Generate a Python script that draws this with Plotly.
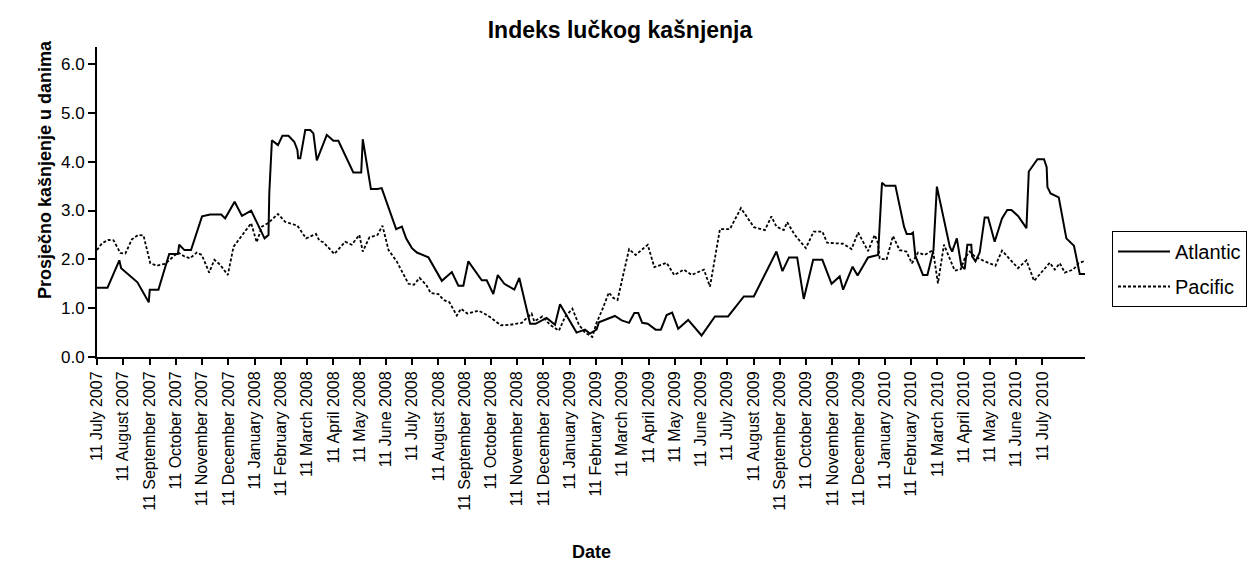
import plotly.graph_objects as go

# x positions: months elapsed since 11 July 2007
atlantic_month = [0.00, 0.40, 0.85, 0.92, 1.54, 1.97, 2.01, 2.34, 2.53, 2.75, 3.08, 3.13, 3.33, 3.58,
                  4.00, 4.31, 4.73, 4.88, 5.24, 5.52, 5.87, 6.18, 6.38, 6.53, 6.56, 6.66, 6.89, 7.06,
                  7.29, 7.51, 7.63, 7.66, 7.74, 7.93, 8.12, 8.24, 8.37, 8.75, 9.00, 9.19, 9.76, 10.06,
                  10.12, 10.43, 10.68, 10.84, 11.39, 11.61, 11.77, 11.99, 12.18, 12.62, 13.13, 13.51,
                  13.76, 13.95, 14.14, 14.65, 14.84, 15.09, 15.26, 15.51, 15.89, 16.08, 16.49, 16.70,
                  17.12, 17.44, 17.63, 18.26, 18.58, 18.77, 19.02, 19.11, 19.72, 19.98, 20.26, 20.46,
                  20.61, 20.76, 20.97, 21.27, 21.47, 21.69, 21.90, 22.13, 22.51, 23.02, 23.53, 24.03,
                  24.63, 25.01, 25.87, 26.10, 26.35, 26.66, 26.91, 27.27, 27.62, 27.97, 28.28, 28.41,
                  28.77, 28.96, 29.36, 29.74, 29.89, 30.02, 30.40, 30.73, 30.83, 30.99, 31.07, 31.16,
                  31.45, 31.62, 31.85, 31.98, 32.47, 32.56, 32.74, 32.91, 33.04, 33.14, 33.29, 33.32,
                  33.45, 33.61, 33.80, 33.93, 34.18, 34.46, 34.66, 34.82, 35.07, 35.39, 35.48, 35.81,
                  36.06, 36.16, 36.19, 36.31, 36.62, 36.91, 37.20, 37.42, 37.67]
atlantic_value = [1.42, 1.42, 1.98, 1.82, 1.53, 1.12, 1.38, 1.38, 1.72, 2.11, 2.11, 2.30, 2.19, 2.19,
                  2.88, 2.92, 2.92, 2.84, 3.18, 2.89, 3.00, 2.64, 2.43, 2.50, 3.35, 4.44, 4.34, 4.53,
                  4.53, 4.41, 4.24, 4.07, 4.07, 4.65, 4.65, 4.58, 4.03, 4.55, 4.43, 4.43, 3.78, 3.78,
                  4.46, 3.44, 3.44, 3.46, 2.62, 2.67, 2.43, 2.23, 2.14, 2.04, 1.56, 1.74,
                  1.46, 1.46, 1.96, 1.57, 1.57, 1.29, 1.68, 1.50, 1.38, 1.62, 0.68, 0.68,
                  0.80, 0.66, 1.08, 0.50, 0.56, 0.48, 0.56, 0.71, 0.84, 0.75, 0.70, 0.90,
                  0.90, 0.70, 0.68, 0.56, 0.56, 0.86, 0.91, 0.58, 0.76, 0.44, 0.83, 0.83,
                  1.24, 1.24, 2.16, 1.76, 2.04, 2.04, 1.19, 1.99, 1.99, 1.50, 1.65, 1.38,
                  1.85, 1.67, 2.04, 2.09, 3.57, 3.51, 3.51, 2.67, 2.52, 2.52, 2.55, 2.07,
                  1.68, 1.68, 2.19, 3.49, 2.26, 2.16, 2.43, 1.87, 1.80, 2.30, 2.30, 2.06,
                  1.96, 2.14, 2.86, 2.86, 2.36, 2.84, 3.01, 3.01, 2.89, 2.64, 3.80, 4.05,
                  4.05, 3.89, 3.48, 3.35, 3.27, 2.43, 2.28, 1.70, 1.70]

pacific_month = [0.00, 0.19, 0.44, 0.63, 0.89, 1.08, 1.33, 1.56, 1.77, 2.03, 2.28, 2.60, 2.91, 3.10,
                 3.33, 3.54, 3.80, 3.99, 4.27, 4.47, 4.69, 4.98, 5.20, 5.49, 5.87, 6.08, 6.28, 6.53,
                 6.89, 7.16, 7.36, 7.63, 7.96, 8.34, 8.47, 8.62, 9.04, 9.45, 9.70, 9.99, 10.12, 10.37,
                 10.68, 10.87, 11.10, 11.41, 11.86, 12.07, 12.28, 12.53, 12.71, 13.00, 13.19, 13.42,
                 13.70, 13.86, 14.10, 14.52, 14.71, 14.96, 15.38, 15.73, 16.17, 16.55, 16.65, 16.96,
                 17.25, 17.59, 17.82, 18.10, 18.35, 18.58, 18.86, 19.02, 19.24, 19.49, 19.66, 19.82,
                 20.26, 20.51, 20.97, 21.22, 21.69, 21.98, 22.35, 22.64, 23.11, 23.34, 23.72, 24.10,
                 24.52, 25.01, 25.43, 25.68, 25.87, 26.15, 26.28, 26.57, 26.99, 27.29, 27.62, 27.80,
                 28.41, 28.73, 28.98, 29.36, 29.61, 29.74, 29.80, 30.06, 30.31, 30.56, 30.82, 31.03,
                 31.26, 31.51, 31.83, 32.02, 32.25, 32.66, 32.89, 33.04, 33.23, 33.42, 33.80, 34.21,
                 34.46, 35.07, 35.39, 35.68, 36.28, 36.47, 36.66, 36.85, 37.17, 37.38, 37.74]
pacific_value = [2.19, 2.33, 2.40, 2.39, 2.13, 2.12, 2.41, 2.50, 2.49, 1.92, 1.87, 1.91, 2.06, 2.14,
                 2.06, 2.02, 2.14, 2.09, 1.73, 1.99, 1.89, 1.68, 2.26, 2.47, 2.74, 2.35, 2.67, 2.75,
                 2.93, 2.77, 2.74, 2.69, 2.43, 2.52, 2.38, 2.35, 2.11, 2.36, 2.30, 2.50, 2.16, 2.45,
                 2.50, 2.69, 2.19, 1.96, 1.50, 1.48, 1.62, 1.48, 1.31, 1.29, 1.17, 1.12,
                 0.85, 0.99, 0.89, 0.95, 0.90, 0.82, 0.65, 0.66, 0.70, 0.89, 0.73, 0.83,
                 0.66, 0.54, 0.82, 0.99, 0.66, 0.50, 0.41, 0.70, 0.97, 1.32, 1.21, 1.17,
                 2.21, 2.09, 2.30, 1.84, 1.93, 1.68, 1.79, 1.68, 1.79, 1.44, 2.62, 2.62,
                 3.05, 2.66, 2.60, 2.88, 2.67, 2.60, 2.76, 2.50, 2.23, 2.57, 2.57, 2.34,
                 2.32, 2.21, 2.55, 2.17, 2.50, 2.33, 2.02, 1.99, 2.48, 2.19, 2.16, 1.92,
                 2.14, 2.09, 2.19, 1.51, 2.30, 1.77, 1.80, 2.02, 2.16, 2.06, 1.96, 1.87,
                 2.18, 1.82, 1.98, 1.56, 1.93, 1.79, 1.92, 1.73, 1.79, 1.92, 2.00]

month_labels = ["11 July 2007", "11 August 2007", "11 September 2007", "11 October 2007",
                "11 November 2007", "11 December 2007", "11 January 2008", "11 February 2008",
                "11 March 2008", "11 April 2008", "11 May 2008", "11 June 2008", "11 July 2008",
                "11 August 2008", "11 September 2008", "11 October 2008", "11 November 2008",
                "11 December 2008", "11 January 2009", "11 February 2009", "11 March 2009",
                "11 April 2009", "11 May 2009", "11 June 2009", "11 July 2009", "11 August 2009",
                "11 September 2009", "11 October 2009", "11 November 2009", "11 December 2009",
                "11 January 2010", "11 February 2010", "11 March 2010", "11 April 2010",
                "11 May 2010", "11 June 2010", "11 July 2010"]
month_ticks = list(range(len(month_labels)))

FONT = "Arial, Liberation Sans, sans-serif"

fig = go.Figure()
fig.add_trace(go.Scatter(x=atlantic_month, y=atlantic_value, mode="lines", name="Atlantic",
                         line=dict(color="black", width=2), legendgroup="a"))
fig.add_trace(go.Scatter(x=pacific_month, y=pacific_value, mode="lines", name="Pacific",
                         line=dict(color="black", width=1.8, dash="3px,2px"), legendgroup="p"))

fig.update_layout(
    width=1253, height=588,
    margin=dict(l=97, r=168, t=47, b=231, autoexpand=False),
    paper_bgcolor="white", plot_bgcolor="white",
    font=dict(family=FONT, color="black"),
    title=dict(text="Indeks lučkog kašnjenja", font=dict(size=23, weight="bold", family=FONT),
               x=620 / 1253, xref="container", xanchor="center",
               y=1 - 30 / 588, yref="container", yanchor="middle"),
    showlegend=True,
    legend=dict(x=(1112 - 97) / 988, y=(357 - 231) / 310, xanchor="left", yanchor="top",
                bordercolor="black", borderwidth=1, font=dict(size=20, family=FONT),
                tracegroupgap=6, traceorder="grouped", itemwidth=52, entrywidth=150),
    annotations=[
        dict(text="Prosječno kašnjenje u danima", textangle=-90, xref="paper", yref="paper",
             x=(45 - 97) / 988, y=(357 - 170) / 310, xanchor="center", yanchor="middle",
             showarrow=False, font=dict(size=18, weight="bold", family=FONT)),
        dict(text="Date", xref="paper", yref="paper", x=0.5, y=(357 - 552) / 310,
             xanchor="center", yanchor="middle", showarrow=False,
             font=dict(size=18, weight="bold", family=FONT)),
    ],
)
fig.update_xaxes(range=[0, 37.62], tickmode="array", tickvals=month_ticks, ticktext=month_labels,
                 tickangle=-90, ticks="outside", ticklen=6, tickwidth=2, tickcolor="black",
                 tickfont=dict(size=16, family=FONT), showline=True, linecolor="black", linewidth=2,
                 showgrid=False, zeroline=False)
fig.update_yaxes(range=[0, 6.35], tickmode="array", tickvals=[0, 1, 2, 3, 4, 5, 6],
                 ticktext=["0.0", "1.0", "2.0", "3.0", "4.0", "5.0", "6.0"],
                 ticks="outside", ticklen=7, tickwidth=2, tickcolor="black",
                 tickfont=dict(size=17, family=FONT), showline=True, linecolor="black", linewidth=2,
                 showgrid=False, zeroline=False)

fig.write_html("out.html", config={"displayModeBar": False},
               post_script="document.body.style.margin='0';")
